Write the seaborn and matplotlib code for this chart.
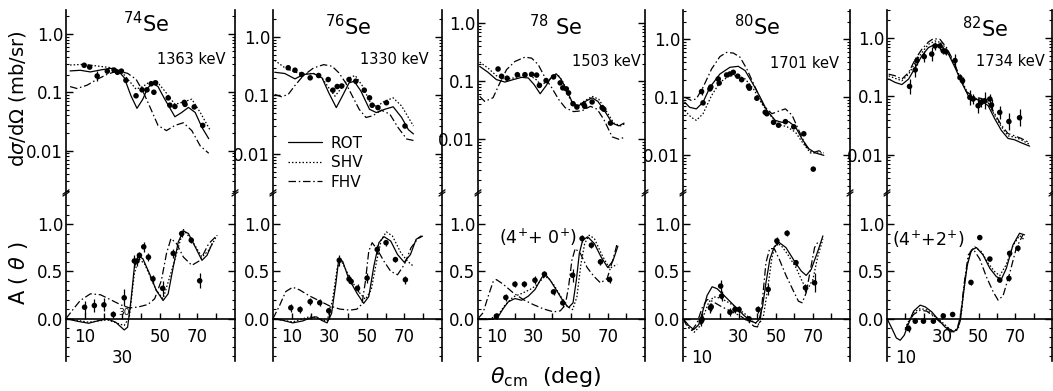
import matplotlib
matplotlib.use("Agg")
import matplotlib.pyplot as plt
import seaborn as sns
from matplotlib.ticker import FixedLocator, LogLocator, NullFormatter

# ---------------- data ----------------
# theta_cm (deg), cross section (mb/sr) -- model curves ROT / SHV / FHV
rot74_cs = [(2.2, 0.232), (7.6, 0.238), (13.0, 0.223), (18.4, 0.241), (23.8, 0.257), (27.4, 0.241), (31.0, 0.178),
            (34.6, 0.087), (37.8, 0.053), (40.9, 0.076), (43.6, 0.120), (46.3, 0.143), (49.0, 0.125), (52.6, 0.076),
            (58.0, 0.038), (61.6, 0.045), (65.2, 0.055), (68.8, 0.045), (72.4, 0.025), (76.0, 0.016)]
shv74_cs = [(2.2, 0.293), (9.4, 0.301), (16.6, 0.282), (23.8, 0.264), (29.2, 0.232), (33.7, 0.156), (37.3, 0.113),
            (40.9, 0.125), (44.5, 0.150), (48.1, 0.156), (52.6, 0.105), (58.0, 0.062), (62.5, 0.068), (67.0, 0.076),
            (71.5, 0.045), (76.9, 0.022)]
fhv74_cs = [(2.2, 0.125), (5.8, 0.116), (11.2, 0.132), (16.6, 0.167), (22.0, 0.203), (27.4, 0.232), (32.8, 0.211),
            (37.3, 0.167), (40.9, 0.105), (44.5, 0.058), (49.0, 0.027), (53.5, 0.022), (58.0, 0.027), (62.5, 0.030),
            (67.0, 0.022), (71.5, 0.012), (76.0, 0.009)]
rot76_cs = [(0.9, 0.249), (6.3, 0.237), (11.7, 0.192), (16.2, 0.228), (21.6, 0.237), (26.1, 0.200), (29.7, 0.111),
            (33.7, 0.062), (36.9, 0.097), (40.5, 0.164), (43.2, 0.175), (46.8, 0.119), (51.4, 0.058), (55.0, 0.051),
            (59.5, 0.058), (64.0, 0.064), (68.5, 0.042), (72.1, 0.026), (74.8, 0.022)]
shv76_cs = [(0.9, 0.398), (6.3, 0.297), (11.7, 0.249), (16.2, 0.237), (21.6, 0.237), (26.1, 0.200), (29.7, 0.135),
            (33.0, 0.097), (36.9, 0.140), (40.5, 0.200), (43.8, 0.219), (47.7, 0.144), (51.4, 0.080), (55.0, 0.064),
            (59.5, 0.080), (64.0, 0.091), (68.5, 0.066), (72.1, 0.042), (74.8, 0.030)]
fhv76_cs = [(0.9, 0.104), (4.5, 0.095), (8.1, 0.104), (11.7, 0.148), (16.2, 0.219), (21.6, 0.295), (27.0, 0.336),
            (31.5, 0.315), (35.1, 0.243), (38.7, 0.164), (42.3, 0.097), (45.9, 0.058), (49.5, 0.042), (53.2, 0.045),
            (57.7, 0.056), (62.2, 0.048), (66.7, 0.028), (71.2, 0.018), (74.8, 0.017)]
rot78_cs = [(0.9, 0.181), (5.4, 0.143), (9.9, 0.107), (14.5, 0.097), (19.0, 0.107), (23.5, 0.117), (27.1, 0.114),
            (30.2, 0.088), (33.5, 0.061), (36.7, 0.084), (39.2, 0.114), (42.1, 0.135), (44.7, 0.110), (47.6, 0.072),
            (50.6, 0.045), (53.7, 0.037), (57.9, 0.045), (61.5, 0.052), (64.6, 0.045), (68.2, 0.031), (72.3, 0.019),
            (75.9, 0.017), (78.7, 0.019)]
shv78_cs = [(0.9, 0.215), (5.4, 0.169), (9.9, 0.125), (14.5, 0.107), (19.0, 0.114), (23.5, 0.125), (28.0, 0.125),
            (31.3, 0.107), (33.8, 0.088), (37.1, 0.096), (40.3, 0.122), (43.4, 0.125), (46.1, 0.094), (48.8, 0.055),
            (52.4, 0.036), (57.0, 0.045), (61.5, 0.055), (65.1, 0.049), (69.6, 0.029), (73.2, 0.019), (76.9, 0.017),
            (79.6, 0.019)]
fhv78_cs = [(0.9, 0.055), (3.6, 0.045), (8.1, 0.052), (11.8, 0.094), (15.4, 0.159), (19.9, 0.220), (25.3, 0.261),
            (28.9, 0.251), (32.5, 0.193), (36.2, 0.114), (39.8, 0.077), (43.4, 0.049), (47.0, 0.035), (51.5, 0.030),
            (56.1, 0.031), (60.6, 0.037), (64.2, 0.033), (67.8, 0.022), (72.3, 0.011), (75.9, 0.010), (79.6, 0.011)]
rot80_cs = [(0.9, 0.082), (3.6, 0.067), (7.2, 0.063), (10.8, 0.082), (14.5, 0.148), (19.9, 0.251), (25.3, 0.327),
            (29.8, 0.340), (33.5, 0.286), (38.0, 0.163), (41.6, 0.100), (45.2, 0.059), (49.7, 0.040), (53.3, 0.037),
            (57.0, 0.038), (60.6, 0.031), (64.2, 0.019), (67.8, 0.013), (71.4, 0.011), (75.9, 0.010)]
shv80_cs = [(0.9, 0.059), (4.5, 0.045), (7.2, 0.040), (10.8, 0.052), (15.4, 0.107), (19.9, 0.181), (25.3, 0.235),
            (29.8, 0.235), (33.5, 0.206), (38.0, 0.139), (42.5, 0.077), (47.0, 0.049), (51.5, 0.034), (56.1, 0.031),
            (60.6, 0.025), (64.2, 0.017), (68.7, 0.011), (73.2, 0.011), (75.9, 0.011)]
fhv80_cs = [(0.9, 0.100), (4.5, 0.088), (7.2, 0.094), (10.8, 0.148), (15.4, 0.306), (19.9, 0.50), (23.5, 0.59),
            (27.1, 0.575), (30.7, 0.49), (34.4, 0.306), (38.9, 0.148), (43.4, 0.072), (47.9, 0.052), (52.4, 0.059),
            (55.2, 0.063), (58.8, 0.049), (62.4, 0.027), (66.0, 0.015), (69.6, 0.011), (73.2, 0.012), (75.9, 0.011)]
rot82_cs = [(0.9, 0.198), (4.5, 0.173), (8.1, 0.159), (11.8, 0.198), (15.4, 0.312), (19.0, 0.494), (22.6, 0.684),
            (26.2, 0.78), (29.8, 0.73), (33.5, 0.53), (37.1, 0.312), (40.7, 0.173), (44.3, 0.103), (47.9, 0.090),
            (51.5, 0.084), (55.2, 0.069), (58.8, 0.041), (62.4, 0.026), (66.0, 0.019), (69.6, 0.018), (73.2, 0.016),
            (77.8, 0.014)]
shv82_cs = [(0.9, 0.225), (4.5, 0.203), (8.1, 0.185), (11.8, 0.240), (15.4, 0.380), (19.0, 0.562), (22.6, 0.780),
            (26.2, 0.889), (29.8, 0.832), (33.5, 0.562), (37.1, 0.333), (40.7, 0.185), (44.3, 0.110), (47.9, 0.092),
            (51.5, 0.090), (55.2, 0.077), (58.8, 0.047), (62.4, 0.030), (66.0, 0.021), (69.6, 0.020), (73.2, 0.018),
            (77.8, 0.015)]
fhv82_cs = [(0.9, 0.240), (4.5, 0.225), (8.1, 0.197), (11.8, 0.256), (15.4, 0.433), (19.0, 0.641), (22.6, 0.855),
            (25.3, 0.975), (28.9, 0.949), (32.5, 0.684), (36.2, 0.405), (39.8, 0.211), (43.4, 0.120), (47.9, 0.096),
            (51.5, 0.092), (55.2, 0.079), (58.8, 0.050), (62.4, 0.032), (66.0, 0.023), (69.6, 0.021), (73.2, 0.019),
            (77.8, 0.016)]

# theta_cm (deg), analysing power A(theta) -- model curves
rot74_a = [(0, 0), (5.8, -0.028), (12.1, -0.050), (17.5, -0.021), (22.0, -0.004), (26.5, -0.039), (31.0, -0.121),
           (32.8, -0.092), (34.6, 0.191), (36.4, 0.546), (38.6, 0.660), (40.9, 0.635), (44.5, 0.475), (48.1, 0.298),
           (51.7, 0.191), (54.4, 0.262), (57.1, 0.546), (59.8, 0.812), (62.5, 0.929), (65.2, 0.901), (68.8, 0.759),
           (72.4, 0.617), (75.1, 0.670), (77.8, 0.794)]
shv74_a = [(0, 0), (12.1, -0.039), (22.0, -0.014), (31.0, -0.074), (33.7, 0.014), (36.4, 0.475), (38.6, 0.635),
           (41.8, 0.582), (48.1, 0.298), (51.7, 0.209), (57.1, 0.564), (62.5, 0.943), (67.0, 0.830), (72.4, 0.652),
           (76.0, 0.723), (80.5, 0.883)]
fhv74_a = [(0, 0), (4.0, 0.103), (7.6, 0.191), (13.0, 0.262), (18.4, 0.252), (23.8, 0.199), (29.2, 0.145),
           (33.7, 0.113), (38.2, 0.121), (43.6, 0.149), (47.2, 0.209), (50.8, 0.404), (53.5, 0.688), (55.9, 0.848),
           (58.9, 0.794), (62.5, 0.652), (67.0, 0.564), (71.5, 0.617), (76.0, 0.794), (80.5, 0.883)]
rot76_a = [(0, 0), (5.0, -0.018), (10.5, -0.046), (15.9, -0.025), (20.4, 0.011), (23.1, 0.018), (25.8, -0.018),
           (28.8, -0.046), (31.2, 0.054), (33.5, 0.375), (35.0, 0.625), (37.1, 0.607), (40.2, 0.429), (44.7, 0.268),
           (48.3, 0.161), (51.0, 0.232), (53.7, 0.554), (56.4, 0.804), (59.1, 0.868), (62.7, 0.821), (66.3, 0.679),
           (69.9, 0.596), (73.2, 0.679), (76.2, 0.839), (78.9, 0.875)]
shv76_a = [(0, 0), (10.5, -0.036), (20.4, 0.025), (28.8, -0.029), (31.7, 0.196), (34.2, 0.536), (36.0, 0.625),
           (40.2, 0.464), (44.7, 0.304), (49.2, 0.204), (52.3, 0.304), (55.0, 0.589), (57.7, 0.839), (60.4, 0.918),
           (63.6, 0.875), (68.1, 0.696), (71.7, 0.607), (74.4, 0.561)]
fhv76_a = [(0, 0), (3.2, 0.125), (6.8, 0.286), (10.5, 0.332), (14.1, 0.304), (19.5, 0.239), (24.9, 0.186),
           (30.3, 0.132), (35.7, 0.100), (41.1, 0.089), (44.7, 0.100), (47.4, 0.154), (49.2, 0.393), (51.0, 0.714),
           (52.8, 0.804), (55.5, 0.732), (59.1, 0.607), (62.7, 0.500), (66.3, 0.464), (69.9, 0.571), (73.5, 0.750),
           (77.1, 0.846), (79.8, 0.875)]
rot78_a = [(0, 0), (4.5, -0.011), (8.1, -0.007), (10.8, 0.018), (13.6, 0.106), (16.3, 0.177), (19.9, 0.212),
           (23.5, 0.194), (27.1, 0.237), (30.7, 0.307), (34.4, 0.435), (36.2, 0.470), (38.9, 0.406), (42.5, 0.293),
           (46.1, 0.177), (48.8, 0.117), (51.2, 0.166), (53.0, 0.406), (54.6, 0.689), (56.4, 0.830), (59.1, 0.866),
           (62.7, 0.795), (66.3, 0.654), (69.9, 0.541), (72.7, 0.611), (75.4, 0.767)]
shv78_a = [(0, 0), (6.3, -0.004), (10.8, 0.035), (14.5, 0.141), (19.0, 0.230), (23.5, 0.265), (28.0, 0.307),
           (31.6, 0.353), (35.3, 0.435), (37.8, 0.435), (41.0, 0.353), (44.7, 0.230), (47.9, 0.131), (51.0, 0.095),
           (53.3, 0.230), (55.5, 0.583), (57.5, 0.795), (59.9, 0.883), (62.7, 0.848), (66.9, 0.671), (70.9, 0.530),
           (75.0, 0.576)]
fhv78_a = [(0, 0), (2.7, 0.060), (5.4, 0.230), (8.1, 0.389), (9.9, 0.413), (13.6, 0.364), (19.0, 0.272),
           (24.4, 0.201), (29.8, 0.148), (35.3, 0.102), (40.7, 0.071), (44.3, 0.081), (47.0, 0.141), (48.8, 0.336),
           (50.6, 0.618), (52.4, 0.742), (55.2, 0.689), (58.8, 0.541), (62.4, 0.449), (66.0, 0.378), (69.6, 0.424),
           (72.9, 0.636), (75.0, 0.795)]
rot80_a = [(0, 0), (3.1, -0.074), (5.8, -0.117), (8.5, -0.064), (10.3, 0.053), (13.0, 0.245), (15.7, 0.337),
           (18.4, 0.316), (22.1, 0.245), (25.7, 0.174), (29.3, 0.103), (32.9, 0.032), (36.5, -0.028), (39.2, -0.046),
           (41.0, -0.011), (42.9, 0.131), (44.7, 0.379), (46.8, 0.628), (49.2, 0.762), (51.9, 0.805), (55.5, 0.752),
           (60.0, 0.610), (63.7, 0.504), (66.4, 0.457), (69.1, 0.521), (72.7, 0.716), (75.4, 0.876)]
shv80_a = [(0, 0), (3.1, -0.099), (6.1, -0.145), (9.0, -0.082), (11.2, 0.035), (13.9, 0.174), (16.6, 0.230),
           (20.3, 0.216), (24.8, 0.167), (29.3, 0.110), (33.8, 0.043), (37.4, -0.028), (40.5, -0.064), (43.2, 0.007),
           (45.6, 0.309), (47.9, 0.645), (50.1, 0.798), (52.8, 0.777), (56.4, 0.681), (60.9, 0.539), (64.6, 0.379),
           (67.3, 0.316), (70.0, 0.415), (72.7, 0.663), (75.4, 0.840)]
fhv80_a = [(0, 0), (2.2, -0.082), (4.9, -0.124), (7.6, -0.046), (10.3, 0.113), (13.0, 0.202), (15.7, 0.184),
           (20.3, 0.131), (25.7, 0.078), (31.1, 0.025), (35.6, -0.039), (38.3, -0.082), (40.1, -0.089), (41.6, -0.028),
           (43.0, 0.238), (44.7, 0.592), (46.7, 0.741), (49.2, 0.741), (51.9, 0.628), (55.5, 0.457), (59.1, 0.309),
           (62.2, 0.184), (64.2, 0.167), (66.4, 0.273), (68.7, 0.521), (70.9, 0.752), (73.1, 0.823)]
rot82_a = [(0, 0), (2.7, -0.106), (5.1, -0.206), (7.2, -0.230), (9.4, -0.177), (11.8, -0.053), (14.5, 0.078),
           (18.1, 0.142), (20.8, 0.124), (24.4, 0.071), (28.0, -0.011), (31.6, -0.089), (35.3, -0.142), (38.0, -0.124),
           (39.8, -0.035), (41.6, 0.248), (43.8, 0.567), (46.1, 0.727), (48.8, 0.752), (52.4, 0.674), (56.1, 0.532),
           (59.7, 0.443), (62.4, 0.418), (65.1, 0.532), (68.7, 0.780), (72.3, 0.904), (75.0, 0.887)]
shv82_a = [(9.9, -0.106), (11.8, -0.028), (14.5, 0.064), (18.1, 0.106), (21.7, 0.092), (25.3, 0.035), (29.8, -0.035),
           (33.5, -0.099), (36.5, -0.142), (38.9, -0.106), (40.7, 0.071), (42.5, 0.426), (45.2, 0.702), (47.9, 0.759),
           (51.5, 0.709), (55.2, 0.585), (58.8, 0.496), (61.5, 0.454), (65.1, 0.574), (68.7, 0.773), (72.3, 0.879),
           (75.0, 0.833)]
fhv82_a = [(9.9, -0.124), (11.8, -0.035), (14.5, 0.043), (18.1, 0.089), (21.7, 0.078), (25.3, 0.025), (29.8, -0.053),
           (33.5, -0.106), (36.2, -0.135), (38.3, -0.106), (40.1, 0.028), (42.0, 0.355), (44.3, 0.674), (47.0, 0.738),
           (50.6, 0.631), (54.2, 0.443), (57.9, 0.284), (60.6, 0.195), (63.3, 0.241), (66.9, 0.479), (70.5, 0.745),
           (74.1, 0.887)]

# measured points: (theta, dsigma/dOmega, error factor)
exp74_cs = [(9.7, 0.29, 1), (12.6, 0.27, 1), (16.6, 0.19, 1.2), (22.0, 0.23, 1), (25.6, 0.24, 1), (27.4, 0.22, 1),
            (29.5, 0.23, 1), (31.9, 0.16, 1), (37.3, 0.087, 1), (40.5, 0.11, 1), (43.1, 0.11, 1), (45.4, 0.14, 1),
            (47.7, 0.145, 1), (46.8, 0.10, 1), (54.4, 0.08, 1), (55.3, 0.06, 1), (58.0, 0.057, 1), (63.0, 0.067, 1),
            (63.4, 0.062, 1), (68.3, 0.056, 1), (72.8, 0.027, 1)]
exp76_cs = [(8.1, 0.297, 1), (11.7, 0.27, 1), (15.3, 0.228, 1), (19.8, 0.20, 1), (24.3, 0.219, 1), (29.4, 0.187, 1),
            (31.9, 0.123, 1), (34.2, 0.142, 1), (36.6, 0.145, 1), (40.5, 0.187, 1), (44.1, 0.175, 1), (48.6, 0.123, 1),
            (51.4, 0.091, 1), (52.8, 0.068, 1), (55.9, 0.062, 1), (60.4, 0.075, 1), (70.3, 0.030, 1)]
exp78_cs = [(10.8, 0.163, 1), (12.7, 0.122, 1), (15.7, 0.113, 1), (21.2, 0.130, 1), (25.3, 0.130, 1), (28.9, 0.132, 1),
            (31.6, 0.128, 1), (33.1, 0.085, 1), (36.7, 0.103, 1), (40.7, 0.119, 1), (44.3, 0.094, 1), (45.7, 0.077, 1),
            (47.6, 0.074, 1), (48.8, 0.063, 1), (51.2, 0.041, 1), (53.3, 0.036, 1), (57.0, 0.040, 1), (57.5, 0.037, 1),
            (61.5, 0.044, 1), (66.9, 0.035, 1), (67.8, 0.033, 1), (71.4, 0.019, 1)]
exp80_cs = [(10.0, 0.125, 1.15), (10.8, 0.080, 1), (14.5, 0.139, 1), (15.0, 0.15, 1), (19.0, 0.206, 1), (19.5, 0.175, 1),
            (23.5, 0.241, 1), (25.3, 0.251, 1), (27.1, 0.268, 1), (29.5, 0.23, 1), (31.6, 0.20, 1), (35.3, 0.154, 1),
            (35.8, 0.143, 1), (39.8, 0.096, 1), (44.3, 0.055, 1), (45.2, 0.052, 1), (48.8, 0.037, 1), (51.5, 0.033, 1),
            (55.2, 0.038, 1), (59.7, 0.031, 1), (65.1, 0.0235, 1), (70.2, 0.0058, 1)]
exp82_cs = [(12.3, 0.148, 1.35), (15.4, 0.284, 1.3), (16.3, 0.41, 1.2), (20.3, 0.48, 1.25), (24.4, 0.53, 1.3),
            (26.2, 0.73, 1.15), (28.9, 0.73, 1.15), (30.7, 0.60, 1.15), (32.2, 0.58, 1.15), (37.1, 0.41, 1.3),
            (39.8, 0.21, 1.15), (41.2, 0.185, 1.15), (45.2, 0.096, 1.35), (47.0, 0.090, 1.2), (49.7, 0.069, 1.35),
            (51.5, 0.079, 1.2), (53.3, 0.084, 1.4), (56.1, 0.090, 1.2), (57.0, 0.071, 1.25), (61.5, 0.053, 1.3),
            (66.5, 0.037, 1.4), (72.3, 0.043, 1.4)]

# measured points: (theta, A, +-error)
exp74_a = [(9.9, 0.12, 0.07), (15.1, 0.138, 0.07), (20.2, 0.145, 0.07), (25.2, 0.043, 0.04), (31.0, 0.22, 0.09),
           (36.4, 0.61, 0.06), (37.8, 0.61, 0.05), (39.1, 0.67, 0.04), (41.4, 0.76, 0.05), (43.9, 0.65, 0.04),
           (46.3, 0.42, 0.04), (51.5, 0.32, 0.08), (57.1, 0.69, 0.05), (61.6, 0.90, 0.04), (66.7, 0.83, 0.03),
           (71.2, 0.40, 0.08)]
exp76_a = [(9.5, 0.114, 0.04), (14.4, 0.096, 0.04), (19.8, 0.179, 0.04), (24.9, 0.168, 0.04), (29.7, 0.082, 0.04),
           (35.3, 0.618, 0.06), (40.5, 0.418, 0.04), (41.6, 0.393, 0.03), (45.0, 0.321, 0.04), (50.1, 0.429, 0.05),
           (55.5, 0.732, 0.05), (60.2, 0.804, 0.03), (65.2, 0.625, 0.03), (70.5, 0.411, 0.04)]
exp78_a = [(9.9, 0.025, 0.03), (15.0, 0.223, 0.04), (19.9, 0.364, 0.03), (25.0, 0.364, 0.03), (30.7, 0.406, 0.04),
           (35.8, 0.470, 0.03), (40.7, 0.283, 0.03), (45.7, 0.166, 0.04), (51.0, 0.459, 0.07), (56.1, 0.848, 0.04),
           (61.1, 0.777, 0.03), (66.0, 0.601, 0.03), (70.9, 0.413, 0.04)]
exp80_a = [(9.8, -0.028, 0.05), (10.3, -0.01, 0.04), (14.8, 0.113, 0.05), (15.2, 0.125, 0.04), (20.3, 0.344, 0.06),
           (20.8, 0.238, 0.05), (25.3, 0.067, 0.04), (28.0, 0.096, 0.04), (30.2, 0.096, 0.04), (35.6, -0.004, 0.03),
           (40.5, 0.096, 0.04), (45.9, 0.309, 0.06), (50.6, 0.823, 0.04), (56.1, 0.904, 0.03), (60.9, 0.592, 0.03),
           (66.0, 0.326, 0.04), (70.9, 0.379, 0.10)]
exp82_a = [(11.8, -0.106, 0.04), (15.4, -0.028, 0.02), (19.9, -0.028, 0.02), (25.3, -0.028, 0.02), (30.7, 0.028, 0.02),
           (35.8, 0.043, 0.02), (45.8, 0.383, 0.03), (50.6, 0.858, 0.02), (56.1, 0.631, 0.02), (61.5, 0.408, 0.02),
           (66.5, 0.426, 0.03), (66.9, 0.691, 0.03), (71.4, 0.745, 0.03)]

titles = [r"$^{74}$Se", r"$^{76}$Se", r"$^{78}$ Se", r"$^{80}$Se", r"$^{82}$Se"]
energies = ["1363 keV", "1330 keV", "1503 keV", "1701 keV", "1734 keV"]
x_ticklabels = [["10", "\n30", "50", "70"], ["10", "30", "50", "70"], ["10", "30", "50", "70"],
                ["\n10", "30", "50", "70"], ["\n10", "30", "50", "70"]]
model_names = ["ROT", "SHV", "FHV"]

# ---------------- layout (pixels of the 1053x391 canvas) ----------------
W, H = 1053, 391
panel_left = [66, 273, 478, 683, 887]
panel_right = [235, 442, 645, 850, 1052]
top_exp = [(-2.71, 0.41), (-2.65, 0.46), (-2.91, 0.23), (-2.63, 0.50), (-2.64, 0.48)]
title_xy = [(146, 24), (348, 27), (556, 27), (757, 27), (985, 29)]
energy_xy = [(191, 60), (394, 60), (606, 62), (804, 63), (1010, 62)]
styles = ["-", (0, (1.2, 1.6)), (0, (6, 2.2, 1.2, 2.2))]


def draw_models(ax, curves, labels=None):
    for k, pts in enumerate(curves):
        th, val = zip(*pts)
        kw = dict(label=labels[k]) if labels else {}
        sns.lineplot(x=list(th), y=list(val), ax=ax, color="black", lw=0.9, ls=styles[k],
                     sort=False, estimator=None, **kw)


def break_marks(ax, y):
    for x in (0, 1):
        ax.plot([x - 0.018, x + 0.018], [y - 0.012, y + 0.012], transform=ax.transAxes,
                clip_on=False, color="black", lw=0.9)


def main():
    sns.set_theme(style="ticks")
    plt.rcParams["font.family"] = ["DejaVu Sans"]
    plt.rcParams.update({"axes.edgecolor": "black", "xtick.color": "black", "ytick.color": "black",
                         "text.color": "black", "axes.linewidth": 1.2})

    fig = plt.figure(figsize=(10.53, 3.91), dpi=100)

    cs_curves = [(rot74_cs, shv74_cs, fhv74_cs), (rot76_cs, shv76_cs, fhv76_cs), (rot78_cs, shv78_cs, fhv78_cs),
                 (rot80_cs, shv80_cs, fhv80_cs), (rot82_cs, shv82_cs, fhv82_cs)]
    a_curves = [(rot74_a, shv74_a, fhv74_a), (rot76_a, shv76_a, fhv76_a), (rot78_a, shv78_a, fhv78_a),
                (rot80_a, shv80_a, fhv80_a), (rot82_a, shv82_a, fhv82_a)]
    cs_points = [exp74_cs, exp76_cs, exp78_cs, exp80_cs, exp82_cs]
    a_points = [exp74_a, exp76_a, exp78_a, exp80_a, exp82_a]

    for i in range(5):
        x0, x1 = panel_left[i], panel_right[i]
        ax_t = fig.add_axes([x0 / W, 1 - 192 / H, (x1 - x0) / W, 182 / H])
        ax_b = fig.add_axes([x0 / W, 1 - 361 / H, (x1 - x0) / W, 167 / H])

        # ---- cross section panel ----
        ax_t.set_yscale("log")
        draw_models(ax_t, cs_curves[i], model_names if i == 1 else None)
        th, v, f = zip(*cs_points[i])
        lo = [a - a / b for a, b in zip(v, f)]
        hi = [a * b - a for a, b in zip(v, f)]
        ax_t.errorbar(th, v, yerr=[lo, hi], fmt="none", ecolor="black", elinewidth=0.9)
        sns.scatterplot(x=list(th), y=list(v), ax=ax_t, color="black", s=16, edgecolor="none", zorder=5)
        ax_t.set_xlim(0, 90)
        ax_t.set_ylim(10 ** top_exp[i][0], 10 ** top_exp[i][1])
        ax_t.set_yticks([0.01, 0.1, 1.0])
        ax_t.set_yticklabels(["0.01", "0.1", "1.0"])
        ax_t.yaxis.set_minor_locator(LogLocator(base=10, subs=(2, 3, 4, 5, 6, 7, 8, 9)))
        ax_t.yaxis.set_minor_formatter(NullFormatter())
        ax_t.set_xticks([])
        ax_t.spines["top"].set_visible(False)
        ax_t.spines["bottom"].set_visible(False)
        ax_t.tick_params(axis="y", which="both", direction="in", left=True, right=True, labelsize=12, pad=2)
        ax_t.tick_params(axis="y", which="major", length=5, width=1)
        ax_t.tick_params(axis="y", which="minor", length=2.5, width=0.8)
        ax_t.set_xlabel("")
        ax_t.set_ylabel("")
        break_marks(ax_t, 0.0)

        # ---- analysing power panel ----
        draw_models(ax_b, a_curves[i])
        th, a, e = zip(*a_points[i])
        ax_b.errorbar(th, a, yerr=e, fmt="none", ecolor="black", elinewidth=0.9)
        sns.scatterplot(x=list(th), y=list(a), ax=ax_b, color="black", s=16, edgecolor="none", zorder=5)
        ax_b.set_xlim(0, 90)
        ax_b.set_ylim(-0.45, 1.32)
        ax_b.set_yticks([0.0, 0.5, 1.0])
        ax_b.set_yticklabels(["0.0", "0.5", "1.0"])
        ax_b.yaxis.set_minor_locator(FixedLocator([-0.4, -0.3, -0.2, -0.1, 0.1, 0.2, 0.3, 0.4, 0.6, 0.7, 0.8, 0.9,
                                                   1.1, 1.2]))
        ax_b.set_xticks([10, 30, 50, 70])
        ax_b.set_xticklabels(x_ticklabels[i])
        ax_b.xaxis.set_minor_locator(FixedLocator([20, 40, 60, 80]))
        ax_b.spines["top"].set_visible(False)
        ax_b.spines["bottom"].set_position(("data", 0))
        ax_b.tick_params(axis="y", which="both", direction="in", left=True, right=True, labelsize=12, pad=2)
        ax_b.tick_params(axis="y", which="major", length=5, width=1)
        ax_b.tick_params(axis="y", which="minor", length=2.5, width=0.8)
        ax_b.tick_params(axis="x", which="both", direction="in", length=4, width=1, labelsize=12, pad=7)
        ax_b.set_xlabel("")
        ax_b.set_ylabel("")
        break_marks(ax_b, 1.0)

        if i == 1:
            ax_t.legend(loc="upper left", bbox_to_anchor=(0.09, 0.31), frameon=False, fontsize=11,
                        handlelength=2.2, labelspacing=0.3, handletextpad=0.6, borderpad=0, borderaxespad=0)
        elif ax_t.get_legend() is not None:
            ax_t.get_legend().remove()
        if i == 0:
            ax_b.text(28, 0.04, "30", fontsize=6.5)
        if i == 2:
            ax_b.text(11.5, 0.86, r"(4$^{+}$+ 0$^{+}$)", fontsize=12.5, va="center")
        if i == 4:
            ax_b.text(2.5, 0.84, r"(4$^{+}$+2$^{+}$)", fontsize=12.5, va="center")

        tx, ty = title_xy[i]
        fig.text(tx / W, 1 - ty / H, titles[i], fontsize=15, ha="center", va="center")
        ex, ey = energy_xy[i]
        fig.text(ex / W, 1 - ey / H, energies[i], fontsize=10.5, ha="center", va="center")

    fig.text(18 / W, 1 - 99 / H, r"d$\sigma$/d$\Omega$ (mb/sr)", rotation=90, fontsize=14, ha="center", va="center")
    fig.text(18 / W, 1 - 273 / H, r"A ( $\theta$ )", rotation=90, fontsize=15, ha="center", va="center")
    fig.text(546 / W, 1 - 377 / H, r"$\theta_{\rm cm}$  (deg)", fontsize=16, ha="center", va="center")

    fig.savefig("out.png", dpi=100)
    plt.close(fig)


if __name__ == "__main__":
    main()
